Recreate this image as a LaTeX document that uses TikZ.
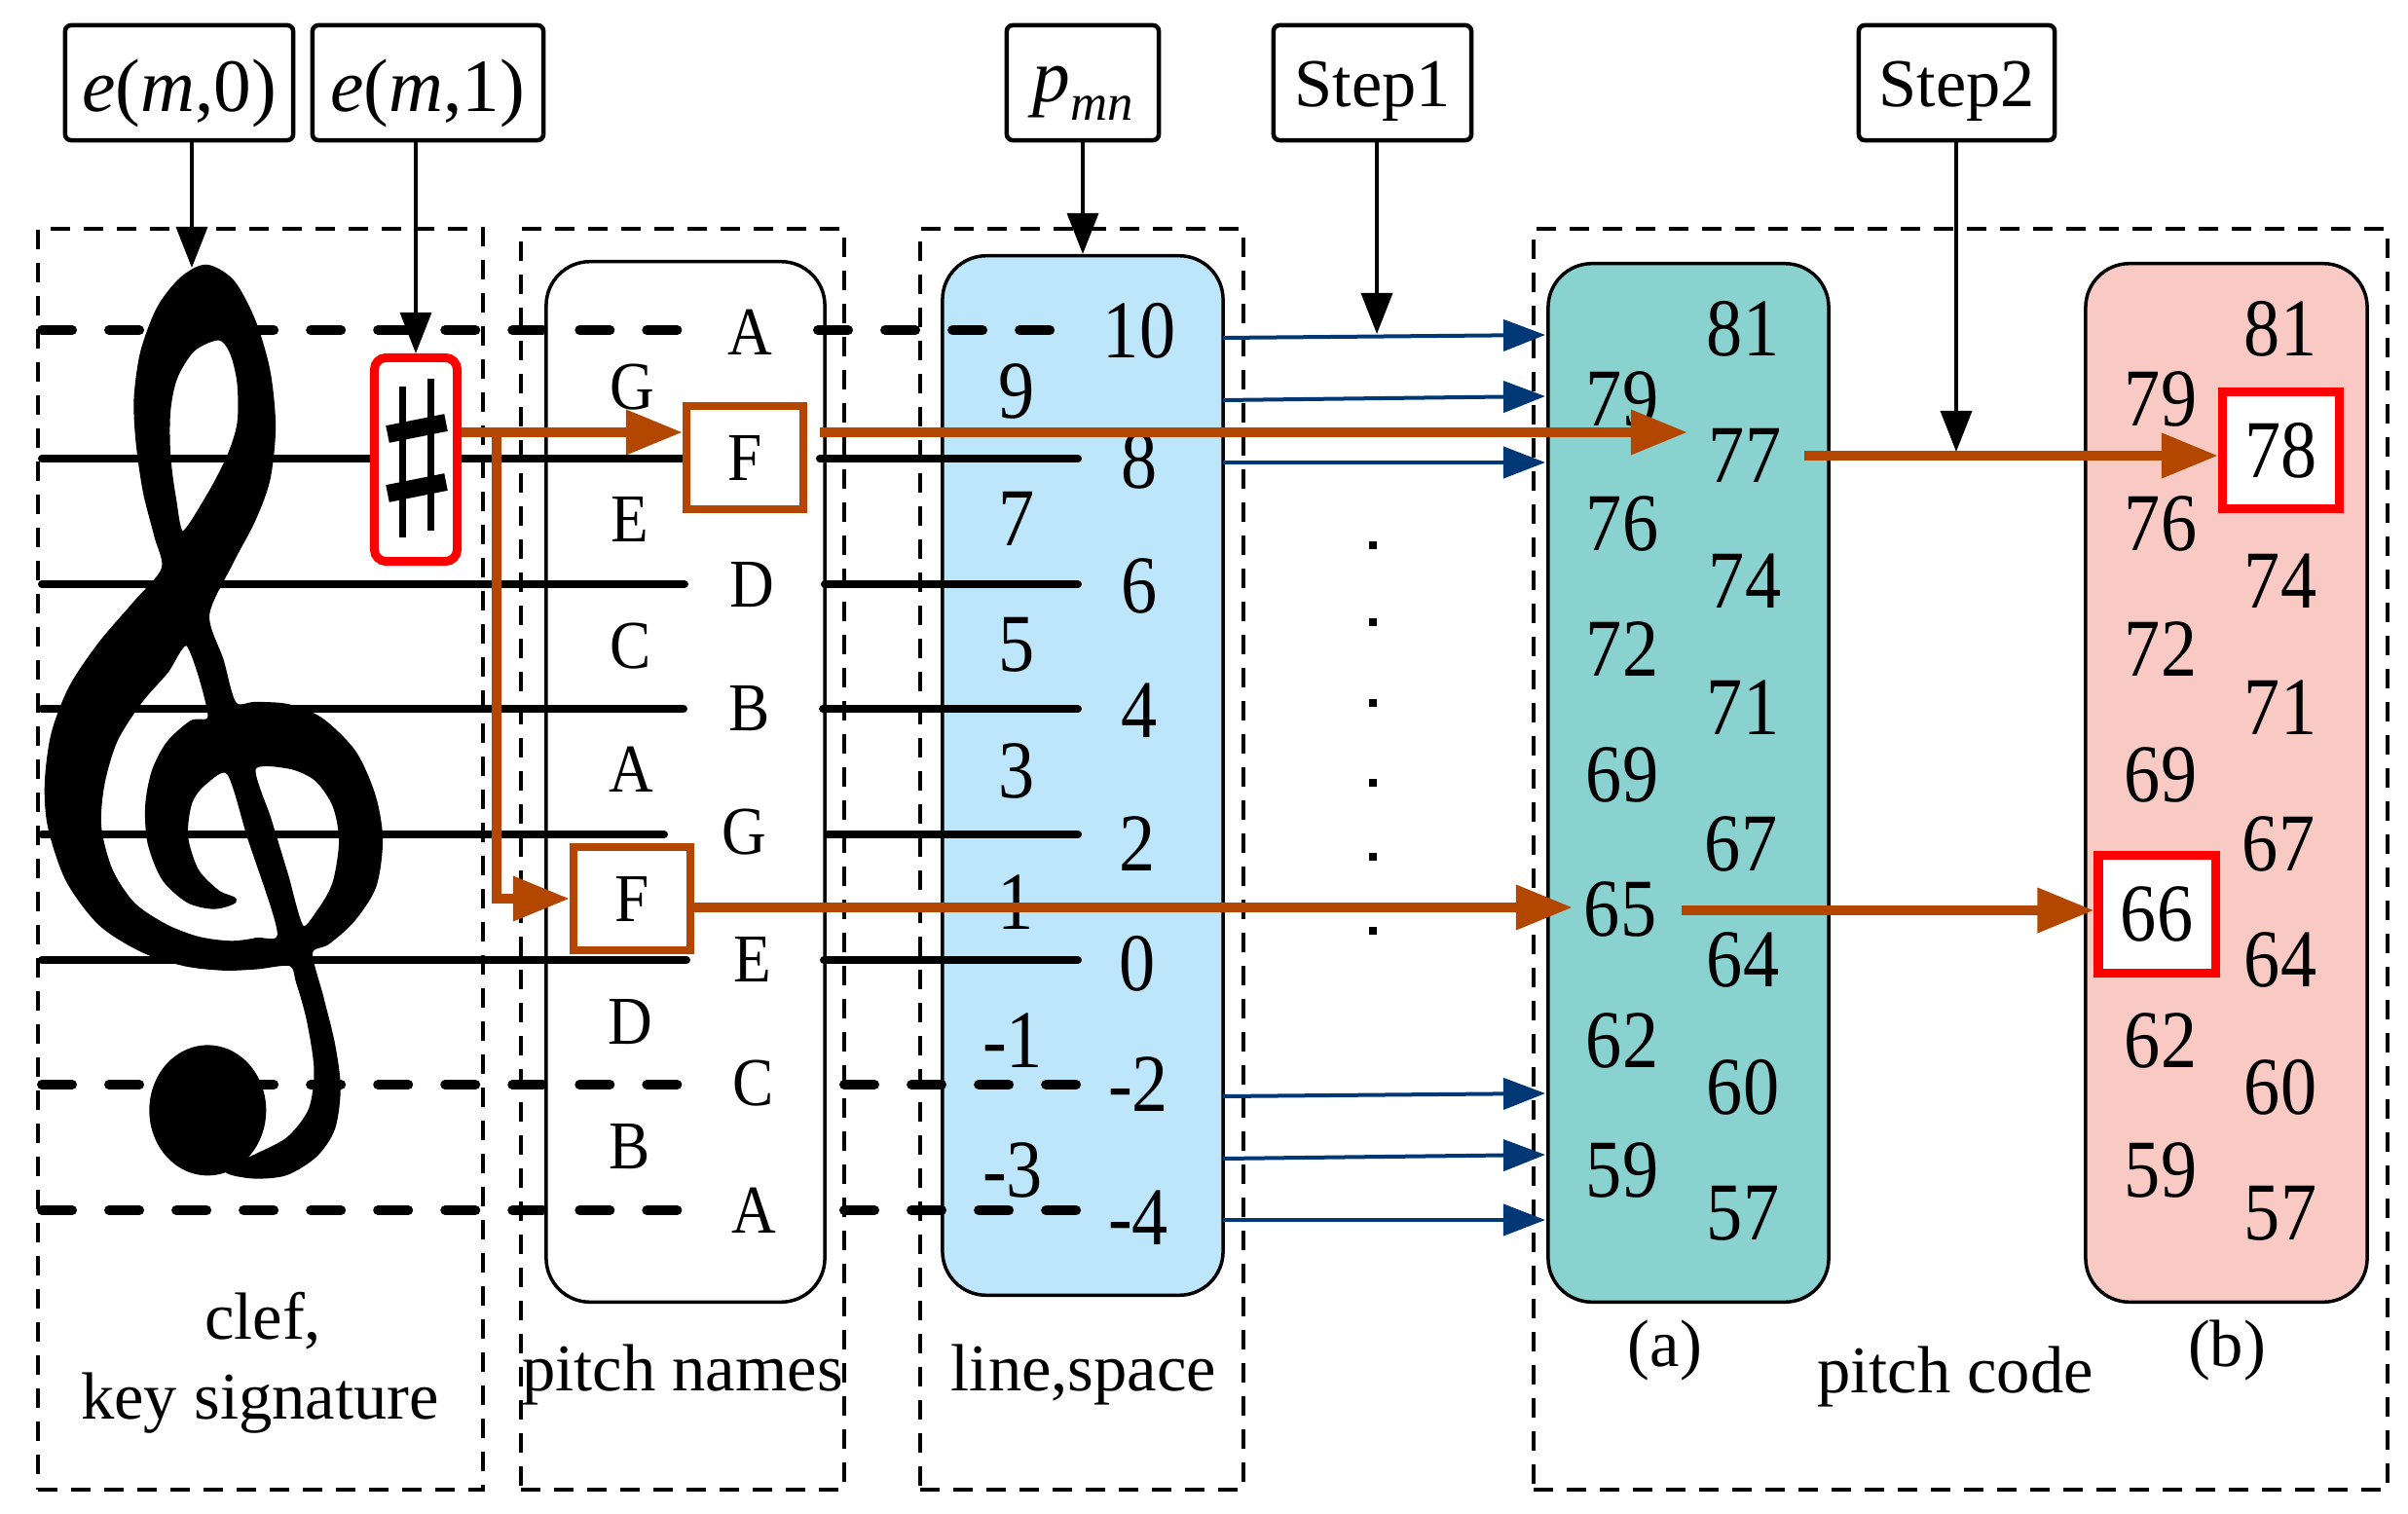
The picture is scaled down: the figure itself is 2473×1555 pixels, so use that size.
\documentclass[tikz,border=0pt]{standalone}
\usepackage{fontspec}
\setmainfont{Liberation Serif}
\usepackage{graphicx}
\usetikzlibrary{arrows.meta}
\definecolor{skyb}{RGB}{190,230,250}
\definecolor{tealb}{RGB}{138,210,208}
\definecolor{pinkb}{RGB}{249,202,196}
\definecolor{orng}{RGB}{179,71,0}
\definecolor{navyb}{RGB}{0,56,117}
\newcommand{\nm}[1]{\scalebox{0.88}[1]{#1}}
\newcommand{\lt}[1]{\scalebox{0.9}[1]{#1}}
\begin{document}
\begin{tikzpicture}[x=0.01cm, y=-0.01cm,
  numstyle/.style={inner sep=0pt, font=\fontsize{24}{24}\selectfont},
  letstyle/.style={inner sep=0pt, font=\fontsize{20}{20}\selectfont},
  lblstyle/.style={inner sep=0pt, font=\fontsize{19.5}{20}\selectfont, anchor=base},
  topbox/.style={draw, line width=0.045cm, rounded corners=0.06cm, minimum height=1.18cm, inner sep=0pt, font=\fontsize{22}{22}\selectfont},
  dbox/.style={draw, dash pattern=on 0.2cm off 0.14cm, line width=0.04cm, inner sep=0pt},
  rbox/.style={draw, line width=0.035cm, rounded corners=0.45cm, inner sep=0pt},
  staffsolid/.style={line width=0.08cm, line cap=round},
  staffdash/.style={line width=0.1cm, line cap=round, dash pattern=on 0.31cm off 0.38cm},
  blkarrow/.style={line width=0.035cm, -{Triangle[length=0.42cm, width=0.32cm]}},
  bluarrow/.style={navyb, line width=0.04cm, -{Triangle[length=0.43cm, width=0.32cm]}},
  orarrow/.style={orng, line width=0.1cm, -{Triangle[length=0.58cm, width=0.44cm]}},
  fbox/.style={draw=orng, fill=white, line width=0.08cm, minimum width=1.2cm, minimum height=1.05cm, inner sep=0pt, font=\fontsize{20}{20}\selectfont},
  hbox/.style={draw=red, fill=white, line width=0.09cm, minimum size=1.2cm, inner sep=0pt, font=\fontsize{24}{24}\selectfont},
]
\useasboundingbox (0,0) rectangle (2473,1555);
\fill[white] (0,0) rectangle (2473,1555);

% dashed group boxes
\node[dbox, minimum width=4.57cm, minimum height=12.95cm] (dclef) at (267.5,882.5) {};
\node[dbox, minimum width=3.32cm, minimum height=12.95cm] (dpn) at (701,882.5) {};
\node[dbox, minimum width=3.32cm, minimum height=12.95cm] (dls) at (1111,882.5) {};
\node[dbox, minimum width=8.77cm, minimum height=12.95cm] (dpc) at (2013.5,882.5) {};

% rounded boxes
\node[rbox, fill=white, minimum width=2.86cm, minimum height=10.68cm] (pnbox) at (704,803) {};
\node[rbox, fill=skyb, minimum width=2.88cm, minimum height=10.67cm] (lsbox) at (1112,796.5) {};
\node[rbox, fill=tealb, minimum width=2.88cm, minimum height=10.66cm] (boxA) at (1734,804) {};
\node[rbox, fill=pinkb, minimum width=2.89cm, minimum height=10.66cm] (boxB) at (2286.5,804) {};

% treble clef
\begin{scope}[shift={(30,250)}, xscale=0.3333, yscale=0.6378]
\filldraw[even odd rule, line width=0.05cm, line join=round]
 plot[smooth cycle, tension=0.5] coordinates {(545,38) (625,62) (690,125) (735,205) (752,295) (735,380) (690,445) (620,515) (548,598) (592,672) (632,742) (700,742) (800,746) (900,768) (1000,820) (1060,890) (1082,960) (1062,1035) (995,1090) (920,1125) (866,1142) (900,1215) (935,1290) (952,1360) (935,1425) (880,1468) (790,1497) (690,1502) (610,1492) (700,1470) (800,1442) (868,1395) (885,1330) (862,1250) (830,1190) (806,1160) (700,1165) (600,1167) (480,1160) (350,1138) (220,1095) (120,1025) (65,940) (55,870) (75,790) (130,715) (220,645) (330,578) (415,524) (392,470) (358,400) (336,320) (330,250) (350,175) (400,105) (470,58)}
 plot[smooth cycle, tension=0.5] coordinates {(585,152) (625,175) (648,225) (648,290) (615,345) (550,410) (472,468) (445,410) (428,340) (428,270) (450,215) (505,170)}
 plot[smooth cycle, tension=0.5] coordinates {(490,645) (558,760) (500,772) (430,805) (385,850) (365,905) (372,965) (415,1022) (490,1058) (570,1068) (632,1058) (580,1045) (515,1010) (482,955) (495,900) (540,868) (615,852) (680,957) (772,1110) (700,1122) (620,1127) (520,1120) (420,1100) (320,1065) (250,1010) (215,940) (225,870) (265,800) (340,738) (420,690)}
 plot[smooth cycle, tension=0.5] coordinates {(691,845) (800,842) (885,862) (942,905) (962,962) (942,1030) (895,1075) (840,1102) (790,1016) (740,930)};
\fill (550,1396) ellipse [x radius=180, y radius=105];
\end{scope}

% staff lines
\foreach \yy/\xa/\xb in {471/701/842, 600/703/847, 728/702/845, 857/682/850, 986/705/846}
  \draw[staffsolid] (43,\yy) -- (\xa,\yy) (\xb,\yy) -- (1107,\yy);
\draw[staffdash] (43,339) -- (697,339) (840,339) -- (1107,339);
\draw[staffdash] (43,1114) -- (697,1114) (867,1114) -- (1107,1114);
\draw[staffdash] (43,1243) -- (697,1243) (867,1243) -- (1107,1243);

% sharp
\node[draw=red, fill=white, line width=0.09cm, rounded corners=0.12cm, minimum width=0.85cm, minimum height=2.09cm, inner sep=0pt] (shbox) at (427,472) {};
\draw[line width=0.07cm] (413,397) -- (413,552) (442,389) -- (442,545);
\draw[line width=0.18cm] (398,446) -- (458,434) (398,507) -- (458,495);

% pitch names
\foreach \px/\py/\t [count=\k] in {770/341/A, 772/601/D, 770/728/B, 764/855/G, 773/985/E, 774/1113/C, 774/1243/A, 649/398/G, 647/533/E, 648/664/C, 648/790/A, 647/1050/D, 647/1178/B}
  \node[letstyle] (pl\k) at (\px,\py) {\lt{\t}};
\node[fbox] (fup) at (765,470) {\lt{F}};
\node[fbox] (flow) at (649,923) {\lt{F}};

% line / space numbers
\foreach \px/\py/\t [count=\k] in {1170/340/10, 1044/402/9, 1170/474/8, 1044/533/7, 1170/602/6, 1044/662/5, 1170/730/4, 1044/792/3, 1168/867/2, 1043/927/1, 1168/990/0, 1040/1069/-1, 1169/1114/-2, 1040/1202/-3, 1169/1251/-4}
  \node[numstyle] (ls\k) at (\px,\py) {\nm{\t}};

% pitch code (a)
\foreach \px/\py/\t [count=\k] in {1666/410/79, 1666/538/76, 1666/667/72, 1666/796/69, 1664/934/65, 1666/1069/62, 1666/1202/59, 1790/338/81, 1792/468/77, 1792/597/74, 1790/727/71, 1788/867/67, 1790/986/64, 1790/1117/60, 1790/1246/57}
  \node[numstyle] (ca\k) at (\px,\py) {\nm{\t}};
% pitch code (b)
\foreach \px/\py/\t [count=\k] in {2219/410/79, 2219/538/76, 2219/667/72, 2219/796/69, 2219/1069/62, 2219/1202/59, 2342/338/81, 2342/597/74, 2342/727/71, 2340/867/67, 2342/986/64, 2342/1117/60, 2342/1246/57}
  \node[numstyle] (cb\k) at (\px,\py) {\nm{\t}};
\node[hbox] (hb78) at (2342.5,462.5) {\nm{78}};
\node[hbox] (hb66) at (2215,939) {\nm{66}};

% top boxes
\node[topbox, minimum width=2.34cm, text height=0.7cm, text depth=0.12cm] (em0) at (184,85) {\textit{e}(\textit{m},0)};
\node[topbox, minimum width=2.37cm, text height=0.7cm, text depth=0.12cm] (em1) at (439.5,85) {\textit{e}(\textit{m},1)};
\node[topbox, minimum width=1.56cm, text height=0.5cm, text depth=0.12cm] (pmn) at (1112,85) {\textit{p}\raisebox{-5.5pt}{\fontsize{15}{15}\selectfont\textit{mn}}};
\node[topbox, minimum width=2.03cm, text height=0.6cm, text depth=0.12cm, font=\fontsize{20}{20}\selectfont] (st1) at (1409.5,85) {Step1};
\node[topbox, minimum width=2.01cm, text height=0.6cm, text depth=0.12cm, font=\fontsize{20}{20}\selectfont] (st2) at (2009.5,85) {Step2};

% black arrows
\coordinate (cleftop) at (197,275);
\coordinate (s1t) at (1414,343);
\coordinate (s2t) at (2009,464);
\draw[blkarrow] (em0.south -| cleftop) -- (cleftop);
\draw[blkarrow] (em1.south -| shbox.north) -- (shbox.north);
\draw[blkarrow] (pmn.south -| lsbox.north) -- (lsbox.north);

% blue arrows
\foreach \ya/\yb [count=\k] in {347/344, 411/407, 475/475, 1126/1123, 1190/1186, 1253/1253} {
  \coordinate (bs\k) at (1256,\ya);
  \coordinate (be\k) at (1587,\yb);
  \draw[bluarrow] (bs\k) -- (be\k);
}
\draw[blkarrow] (st1.south -| s1t) -- (s1t);

% dots
\foreach \yy in {560,639,722,804,880,956}
  \fill (1406,{\yy-4}) rectangle (1414,{\yy+4});

% orange arrows
\coordinate (j1) at (510,444);
\coordinate (o1) at (842,444);
\coordinate (t77) at (1733,444);
\coordinate (o77) at (1853,468);
\coordinate (t65) at (1615,932);
\coordinate (o65) at (1727,935);
\draw[orarrow] (shbox.east |- j1) -- (fup.west |- j1);
\draw[orarrow] (j1) |- (flow.west);
\draw[orarrow] (o1) -- (t77);
\draw[orarrow] (o77) -- (hb78.west |- o77);
\draw[orarrow] (flow.east |- t65) -- (t65);
\draw[orarrow] (o65) -- (hb66.west |- o65);
\draw[blkarrow] (st2.south -| s2t) -- (s2t);

% bottom labels
\node[lblstyle] (lclef) at (270,1375) {clef,};
\node[lblstyle] (lkey) at (267,1457) {key signature};
\node[lblstyle] (lpn) at (701,1428) {pitch names};
\node[lblstyle] (lls) at (1113,1428) {line,space};
\node[lblstyle] (lpc) at (2008,1430) {pitch code};
\node[inner sep=0pt, font=\fontsize{19.5}{20}\selectfont] (la) at (1710,1387) {(a)};
\node[inner sep=0pt, font=\fontsize{19.5}{20}\selectfont] (lb) at (2287,1387) {(b)};
\end{tikzpicture}
\end{document}
